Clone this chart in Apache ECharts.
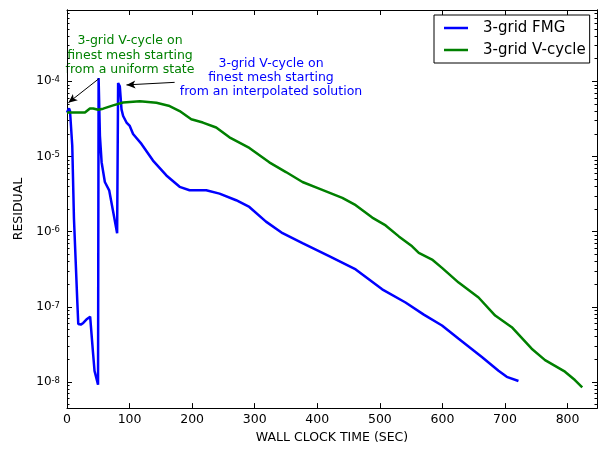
<!DOCTYPE html>
<html>
<head>
<meta charset="utf-8">
<script src="https://cdn.jsdelivr.net/npm/echarts@6/dist/echarts.min.js"></script>
<style>html,body{margin:0;padding:0;background:#fff}#c{width:600px;height:449px}</style>
</head>
<body>
<div id="c"></div>
<script>
// ---- data ----
const fmgTime = [0, 3.2, 4.8, 8.4, 11.1, 14.3, 16.4, 18, 22, 26, 32, 37, 40, 41.5, 44, 49.6,
  50.5, 52.6, 55.3, 60.5, 67.4, 73.7, 80.1,
  81.7, 84.4, 87.1, 89.7, 95.1, 100.3, 105.6, 119, 137.4, 158.8, 180, 195.9, 222.5, 243.7, 270.3,
  291.4, 318, 344.5, 376.3, 418.9, 461.4, 503.7, 541, 570.2, 599.3, 625.9, 663, 689.6, 702.8, 721.5];
const fmgResidual = [3.84e-5, 4.37e-5, 4.03e-5, 1.39e-5, 1.51e-6, 3.30e-7, 1.21e-7, 5.9e-8, 5.8e-8, 6.1e-8, 6.9e-8, 7.4e-8, 7.2e-8, 2.5e-8, 1.4e-8, 9.2e-9,
  1.11e-4, 1.88e-5, 8.4e-6, 4.58e-6, 3.55e-6, 1.85e-6, 9.55e-7,
  9.5e-5, 8.6e-5, 4.24e-5, 3.46e-5, 2.83e-5, 2.55e-5, 1.99e-5, 1.47e-5, 8.83e-6, 5.60e-6, 3.95e-6, 3.56e-6, 3.56e-6, 3.21e-6, 2.62e-6,
  2.13e-6, 1.36e-6, 9.55e-7, 7.05e-7, 4.71e-7, 3.14e-7, 1.71e-7, 1.14e-7, 7.87e-8, 5.64e-8, 3.75e-8, 2.15e-8, 1.41e-8, 1.17e-8, 1.03e-8];
const vTime = [0, 28.7, 36.6, 41.9, 49.8, 57.8, 73.7, 89.7, 116.3, 142.9, 164, 180, 198.6, 217.1, 238.4, 259.6,
  291.4, 323.3, 349.9, 376.3, 402.9, 440, 461.4, 487.8, 509.2, 530.3, 551.5, 562.2, 583.4, 599.3, 625.9,
  657.7, 684.3, 710.8, 742.6, 764, 795.8, 811.7, 823.4];
const vResidual = [3.85e-5, 3.85e-5, 4.36e-5, 4.36e-5, 4.18e-5, 4.33e-5, 4.79e-5, 5.24e-5, 5.45e-5, 5.19e-5, 4.69e-5, 4.03e-5, 3.13e-5, 2.83e-5, 2.43e-5, 1.80e-5,
  1.30e-5, 8.36e-6, 6.21e-6, 4.58e-6, 3.74e-6, 2.82e-6, 2.25e-6, 1.54e-6, 1.21e-6, 8.65e-7, 6.39e-7, 5.21e-7, 4.25e-7, 3.30e-7, 2.10e-7,
  1.33e-7, 7.64e-8, 5.36e-8, 2.77e-8, 1.95e-8, 1.37e-8, 1.06e-8, 8.49e-9];
const seriesNames = ['3-grid FMG', '3-grid V-cycle'];
const xTickStep = 100;
const xMin = 0, xMax = 847;
const yMin = 4.49e-9, yMax = 8.9e-4;
const yMinorTicks = [];
for (let e = -9; e <= -4; e++) for (let m = 2; m <= 9; m++) yMinorTicks.push(m * Math.pow(10, e));
const noteFMG = '3-grid V-cycle on\nfinest mesh starting\nfrom a uniform state';
const noteV = '3-grid V-cycle on\nfinest mesh starting\nfrom an interpolated solution';
// arrows: [from, to] in data coordinates
const arrowUniform = [[51, 1.086e-4], [2.1, 5.19e-5]];
const arrowInterp = [[172, 9.7e-5], [95, 8.97e-5]];

const FONT = 'DejaVu Sans';
const zip = (a, b) => a.map((v, i) => [v, b[i]]);

function yLabel(v) {
  const l = Math.log10(v);
  const e = Math.round(l);
  if (Math.abs(l - e) > 1e-6) return '';
  return '{b|10}{s|' + e + '}';
}
const yRich = {
  b: { fontFamily: FONT, fontSize: 12, color: '#000' },
  s: { fontFamily: FONT, fontSize: 8.5, color: '#000', verticalAlign: 'top' }
};

function yAx(pos, minor) {
  return {
    type: 'log', logBase: 10, min: yMin, max: yMax, position: pos,
    axisLine: { show: true, lineStyle: { color: '#000', width: 1 } },
    axisTick: minor
      ? { show: true, inside: true, length: 2.5, lineStyle: { color: '#000' }, customValues: yMinorTicks }
      : { show: true, inside: true, length: 5, lineStyle: { color: '#000' } },
    axisLabel: (pos === 'left' && !minor)
      ? { show: true, margin: 7, formatter: yLabel, rich: yRich, showMinLabel: true, showMaxLabel: true }
      : { show: false },
    splitLine: { show: false },
    name: (pos === 'left' && !minor) ? 'RESIDUAL' : '',
    nameLocation: 'middle', nameGap: 38,
    nameTextStyle: { fontFamily: FONT, fontSize: 12.5, color: '#000' }
  };
}
function xAx(pos) {
  return {
    type: 'value', min: xMin, max: xMax, interval: xTickStep, position: pos,
    axisLine: { show: true, onZero: false, lineStyle: { color: '#000', width: 1 } },
    axisTick: { show: true, inside: true, length: 5, lineStyle: { color: '#000' } },
    axisLabel: pos === 'bottom'
      ? { show: true, margin: 5, fontFamily: FONT, fontSize: 12.5, color: '#000',
          formatter: v => (v % xTickStep === 0 ? String(v) : '') }
      : { show: false },
    splitLine: { show: false },
    name: pos === 'bottom' ? 'WALL CLOCK TIME (SEC)' : '',
    nameLocation: 'middle', nameGap: 21,
    nameTextStyle: { fontFamily: FONT, fontSize: 12.5, color: '#000' }
  };
}

const arrowLine = (a) => [{ coord: a[0], symbol: 'none' }, { coord: a[1], symbol: 'arrow' }];

const chart = echarts.init(document.getElementById('c'), null, { renderer: 'canvas' });
chart.setOption({
  animation: false,
  backgroundColor: '#fff',
  textStyle: { fontFamily: FONT },
  grid: { left: 67, right: 1, top: 10, bottom: 37, containLabel: false },
  xAxis: [xAx('bottom'), xAx('top')],
  yAxis: [yAx('left', false), yAx('left', true), yAx('right', false), yAx('right', true)],
  legend: {
    data: seriesNames.map(n => ({ name: n, icon: 'rect' })),
    orient: 'vertical', left: 434, top: 15,
    itemWidth: 24, itemHeight: 2.5, itemGap: 4,
    padding: [4, 4, 4, 10],
    borderColor: '#000', borderWidth: 1, borderRadius: 0,
    textStyle: { fontFamily: FONT, fontSize: 15, color: '#000', padding: [0, 0, 0, 10], lineHeight: 18 }
  },
  graphic: [
    { type: 'text', x: 130, y: 34, silent: true,
      style: { text: noteFMG, fill: '#008000', font: '12.5px "DejaVu Sans"', align: 'center', verticalAlign: 'top', lineHeight: 14.2 } },
    { type: 'text', x: 271, y: 56.3, silent: true,
      style: { text: noteV, fill: '#0000ff', font: '12.5px "DejaVu Sans"', align: 'center', verticalAlign: 'top', lineHeight: 14.2 } }
  ],
  series: [
    {
      name: seriesNames[0], type: 'line', xAxisIndex: 0, yAxisIndex: 0,
      data: zip(fmgTime, fmgResidual), symbol: 'none', showSymbol: false,
      lineStyle: { color: '#0000ff', width: 2.5 }, itemStyle: { color: '#0000ff' },
      markLine: {
        silent: true, animation: false, symbolSize: [6, 9],
        lineStyle: { color: '#000', width: 1, type: 'solid' },
        label: { show: false },
        data: [arrowLine(arrowUniform), arrowLine(arrowInterp)]
      }
    },
    {
      name: seriesNames[1], type: 'line', xAxisIndex: 0, yAxisIndex: 0,
      data: zip(vTime, vResidual), symbol: 'none', showSymbol: false,
      lineStyle: { color: '#008000', width: 2.5 }, itemStyle: { color: '#008000' }
    }
  ]
});
</script>
</body>
</html>
